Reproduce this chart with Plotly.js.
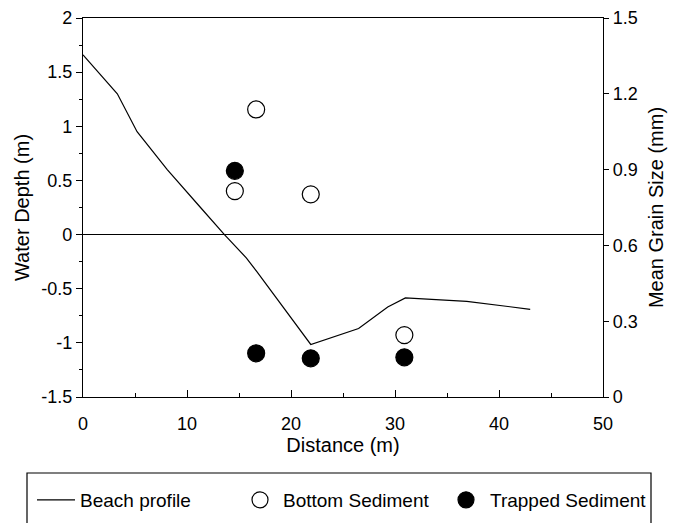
<!DOCTYPE html>
<html><head><meta charset="utf-8">
<script src="https://cdn.plot.ly/plotly-3.0.1.min.js"></script>
<style>html,body{margin:0;padding:0;background:#fff}#chart{width:678px;height:523px}</style>
</head><body><div id="chart"></div>
<script>
// Beach profile (left axis, water depth m)
const profileDistance = [0, 3.3, 5.2, 8.1, 11.3, 13.6, 15.7, 16.7, 21.9, 26.5, 29.3, 31.0, 36.9, 43.0];
const profileDepth    = [1.66, 1.30, 0.95, 0.60, 0.25, 0.0, -0.215, -0.34, -1.015, -0.868, -0.668, -0.585, -0.616, -0.69];
// Bottom sediment (right axis, mean grain size mm)
const bottomDistance = [14.6, 16.65, 21.9, 30.9];
const bottomGrain    = [0.815, 1.138, 0.802, 0.245];
// Trapped sediment (right axis)
const trappedDistance = [14.6, 16.65, 21.9, 30.9];
const trappedGrain    = [0.895, 0.173, 0.153, 0.157];
// Tick labels
const depthTicks = [-1.5, -1, -0.5, 0, 0.5, 1, 1.5, 2];
const depthTickText = ['-1.5', '-1', '-0.5', '0', '0.5', '1', '1.5', '2'];
const grainTicks = [0, 0.3, 0.6, 0.9, 1.2, 1.5];
const grainTickText = ['0', '0.3', '0.6', '0.9', '1.2', '1.5'];
const distTicks = [0, 10, 20, 30, 40, 50];

const F = 'Liberation Sans, Arial, sans-serif';
const W = 678, H = 523, ML = 83, MR = 75, MT = 18, MB = 126;
const PW = W - ML - MR, PH = H - MT - MB;
const px = v => (v - ML) / PW;
const py = v => (H - MB - v) / PH;

const traces = [
  {x: profileDistance, y: profileDepth, type: 'scatter', mode: 'lines', name: 'Beach profile',
   line: {color: '#000', width: 1.2}, yaxis: 'y', legend: 'legend'},
  {x: bottomDistance, y: bottomGrain, type: 'scatter', mode: 'markers', name: 'Bottom Sediment',
   marker: {symbol: 'circle', size: 17, color: '#fff', line: {color: '#000', width: 1.2}}, yaxis: 'y2', legend: 'legend2'},
  {x: trappedDistance, y: trappedGrain, type: 'scatter', mode: 'markers', name: 'Trapped Sediment',
   marker: {symbol: 'circle', size: 17, color: '#000', line: {color: '#000', width: 1.2}}, yaxis: 'y2', legend: 'legend3'}
];

const legendBase = {orientation: 'h', yanchor: 'middle', xanchor: 'left', y: py(500),
  font: {family: F, size: 19, color: '#000'}, bgcolor: 'rgba(0,0,0,0)', borderwidth: 0, itemwidth: 38};

const layout = {
  width: W, height: H,
  margin: {l: ML, r: MR, t: MT, b: MB, pad: 0, autoexpand: false},
  paper_bgcolor: '#fff', plot_bgcolor: '#fff',
  font: {family: F, size: 18, color: '#000'},
  showlegend: true,
  xaxis: {range: [0, 50], tickvals: distTicks, ticks: 'inside', ticklen: 7, tickcolor: '#000',
    showline: true, linecolor: '#000', linewidth: 1.2, mirror: true, showgrid: false, zeroline: false,
    ticklabelstandoff: 10, automargin: false,
    minor: {dtick: 5, ticks: 'inside', ticklen: 4, tickcolor: '#000'},
    tickfont: {family: F, size: 18, color: '#000'},
    title: {text: 'Distance (m)', font: {family: F, size: 20, color: '#000'}, standoff: 5}},
  yaxis: {range: [-1.5, 2], tickvals: depthTicks, ticktext: depthTickText, ticks: 'outside', ticklen: 6,
    tickcolor: '#000', showline: true, linecolor: '#000', linewidth: 1.2, showgrid: false,
    zeroline: true, zerolinecolor: '#000', zerolinewidth: 1.2, automargin: false,
    minor: {dtick: 0.25, ticks: 'outside', ticklen: 3, tickcolor: '#000'},
    tickfont: {family: F, size: 18, color: '#000'},
    title: {text: 'Water Depth (m)', font: {family: F, size: 20, color: '#000'}, standoff: 6}},
  yaxis2: {range: [0, 1.5], overlaying: 'y', side: 'right', tickvals: grainTicks, ticktext: grainTickText,
    ticks: 'outside', ticklen: 5, tickcolor: '#000', showline: true, linecolor: '#000', linewidth: 1.2,
    showgrid: false, zeroline: false, automargin: false,
    tickfont: {family: F, size: 18, color: '#000'},
    title: {text: 'Mean Grain Size (mm)', font: {family: F, size: 20, color: '#000'}, standoff: 12}},
  legend: Object.assign({}, legendBase, {x: px(32)}),
  legend2: Object.assign({}, legendBase, {x: px(237), itemwidth: 36}),
  legend3: Object.assign({}, legendBase, {x: px(442), itemwidth: 38}),
  shapes: [
    {type: 'rect', xref: 'paper', yref: 'paper', x0: px(27), x1: px(651), y0: py(473), y1: py(540),
     line: {color: '#000', width: 1.2}, fillcolor: 'rgba(0,0,0,0)'}
  ]
};

Plotly.newPlot('chart', traces, layout, {displayModeBar: false, staticPlot: true});
</script></body></html>
